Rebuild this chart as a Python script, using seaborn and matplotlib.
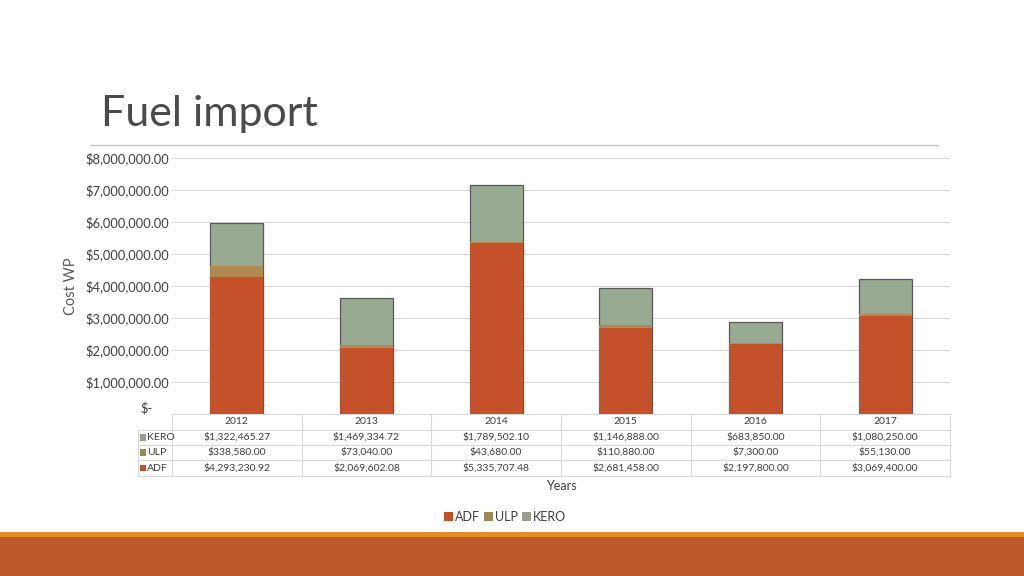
import numpy as np
import pandas as pd
import matplotlib
matplotlib.use("Agg")
from matplotlib import pyplot as plt
from matplotlib.patches import Patch, Rectangle
from matplotlib.lines import Line2D
import matplotlib.transforms as mtransforms
import seaborn as sns

# data
years = ["2012", "2013", "2014", "2015", "2016", "2017"]
adf = [4293230.92, 2069602.08, 5335707.48, 2681458.00, 2197800.00, 3069400.00]
ulp = [338580.00, 73040.00, 43680.00, 110880.00, 7300.00, 55130.00]
kero = [1322465.27, 1469334.72, 1789502.10, 1146888.00, 683850.00, 1080250.00]
series_names = ["KERO", "ULP", "ADF"]

# colours
c_adf = "#C4512A"
c_ulp = "#B08A50"
c_kero = "#98AA92"
leg_colors = {"ADF": "#C0502A", "ULP": "#9C8B55", "KERO": "#9B9C90"}

sns.set_theme(style="white")
plt.rcParams["font.family"] = ["Lato", "DejaVu Sans"]

df = pd.DataFrame({"year": years, "ADF": adf, "ULP": ulp, "KERO": kero})
df["adf_ulp"] = df["ADF"] + df["ULP"]
df["total"] = df["adf_ulp"] + df["KERO"]

fig = plt.figure(figsize=(10.24, 5.76), dpi=100)
ax = fig.add_axes([172 / 1024, 1 - 414 / 576, 778 / 1024, 256 / 576])

# stacked bars drawn as overlaid cumulative totals
bar_w = 0.41
edge = "#5A5A5A"
sns.barplot(data=df, x="year", y="total", color=c_kero, width=bar_w, edgecolor=edge,
            linewidth=0.9, saturation=1, ax=ax, zorder=3)
sns.barplot(data=df, x="year", y="adf_ulp", color=c_ulp, width=bar_w, edgecolor="none",
            linewidth=0, saturation=1, ax=ax, zorder=3)
sns.barplot(data=df, x="year", y="ADF", color=c_adf, width=bar_w, edgecolor="none",
            linewidth=0, saturation=1, ax=ax, zorder=3)

ax.set_xlim(-0.5, 5.5)
ax.set_ylim(0, 8e6)
ax.set_yticks(np.arange(1e6, 8.01e6, 1e6))
ax.set_yticklabels(["${:,.2f}".format(v) for v in np.arange(1e6, 8.01e6, 1e6)],
                   fontsize=9.3, color="#404040")
ax.tick_params(axis="y", length=0, pad=2)
ax.set_xticks([])
ax.set_xlabel("")
ax.set_ylabel("Cost WP", fontsize=10.5, color="#595959")
ax.yaxis.set_label_coords(-0.121, 0.5)
ax.grid(axis="y", color="#D9D9D9", linewidth=0.8, zorder=0)
for s in ax.spines.values():
    s.set_visible(False)
ax.text(-0.0255, 0.0, "$-", transform=ax.transAxes, ha="right", va="bottom",
        fontsize=9.3, color="#404040")

# data table under the plot
tr = mtransforms.blended_transform_factory(ax.transData, ax.transAxes)
line_kw = dict(color="#D9D9D9", linewidth=0.8, transform=tr, clip_on=False)
row_lines = [0.0, -0.0625, -0.121, -0.180, -0.242]
label_left = -0.5 - 34 / 778 * 6
ax.add_line(Line2D([-0.5, 5.5], [0, 0], **line_kw))
for y in row_lines[1:]:
    ax.add_line(Line2D([label_left, 5.5], [y, y], **line_kw))
for x in np.arange(-0.5, 5.6, 1.0):
    ax.add_line(Line2D([x, x], [0, row_lines[-1]], **line_kw))
ax.add_line(Line2D([label_left, label_left], [row_lines[1], row_lines[-1]], **line_kw))

for i, yr in enumerate(years):
    ax.text(i, -0.031, yr, transform=tr, ha="center", va="center", fontsize=7.5,
            color="#404040", clip_on=False)

row_vals = {"KERO": kero, "ULP": ulp, "ADF": adf}
for r, name in enumerate(series_names):
    yc = (row_lines[r + 1] + row_lines[r + 2]) / 2
    for i, v in enumerate(row_vals[name]):
        ax.text(i, yc, "${:,.2f}".format(v), transform=tr, ha="center", va="center",
                fontsize=7.5, color="#404040", clip_on=False)
    ax.add_patch(Rectangle((label_left + 0.018, yc - 0.013), 0.045, 0.026, transform=tr,
                           facecolor=leg_colors[name], edgecolor="none", clip_on=False))
    ax.text(label_left + 0.07, yc, name, transform=tr, ha="left", va="center",
            fontsize=7.5, color="#404040", clip_on=False)

fig.text(561 / 1024, 1 - 486 / 576, "Years", ha="center", va="center",
         fontsize=9, color="#404040")

# legend
handles = [Patch(facecolor=leg_colors[n], edgecolor="none", label=n) for n in ["ADF", "ULP", "KERO"]]
fig.legend(handles=handles, loc="center", bbox_to_anchor=(505 / 1024, 1 - 517 / 576), ncol=3,
           frameon=False, fontsize=9, handlelength=0.75, handleheight=0.75,
           handletextpad=0.15, columnspacing=0.3, labelcolor="#404040")

# title and slide decoration
fig.text(101 / 1024, 1 - 114 / 576, "Fuel import", ha="left", va="center",
         fontsize=31, color="#4A4A4A", fontweight="normal")
fig.add_artist(Line2D([90 / 1024, 938 / 1024], [1 - 145 / 576, 1 - 145 / 576],
                      color="#BFBFBF", linewidth=0.9))
fig.add_artist(Rectangle((0, 1 - 537 / 576), 1, 5 / 576, facecolor="#E08A28",
                         edgecolor="none", transform=fig.transFigure))
fig.add_artist(Rectangle((0, 0), 1, 1 - 537 / 576, facecolor="#BD5A2C",
                         edgecolor="none", transform=fig.transFigure))

fig.savefig("out.png", dpi=100)
